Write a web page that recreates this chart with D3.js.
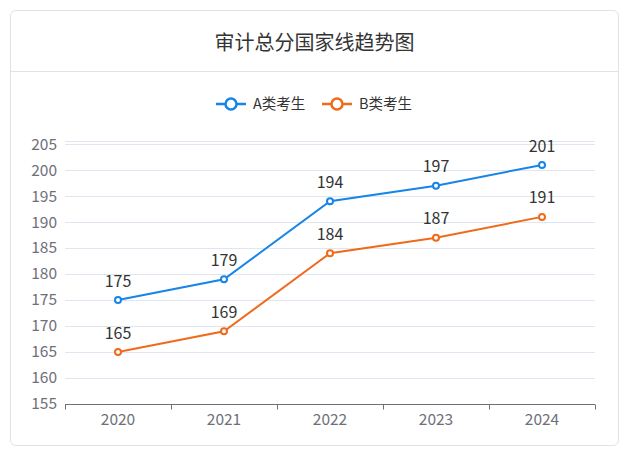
<!DOCTYPE html>
<html>
<head>
<meta charset="utf-8">
<script src="https://cdn.jsdelivr.net/npm/d3@7"></script>
<style>
  body { margin: 0; background: #fff; font-family: "Noto Sans CJK SC", "Noto Sans", sans-serif; }
  #card {
    position: absolute; left: 10px; top: 10px; width: 609px; height: 436px;
    border: 1px solid #e2e2e2; border-radius: 6px; box-sizing: border-box;
  }
  #title {
    height: 60px; line-height: 62px; text-align: center; font-size: 20px; color: #333;
    border-bottom: 1px solid #e2e2e2;
  }
  #chart { position: absolute; left: 0; top: 0; }
</style>
</head>
<body>
<div id="card"><div id="title">审计总分国家线趋势图</div></div>
<svg id="chart" width="629" height="457"></svg>
<script>
// Data
const years = ["2020", "2021", "2022", "2023", "2024"];
const seriesA = [175, 179, 194, 197, 201];
const seriesB = [165, 169, 184, 187, 191];
const seriesNames = ["A类考生", "B类考生"];
const yTicks = [155, 160, 165, 170, 175, 180, 185, 190, 195, 200, 205];

const colors = ["#1784e8", "#f06a1a"];
const series = [seriesA, seriesB];

const svg = d3.select("#chart");
const plotLeft = 65, plotRight = 595, plotTop = 141, plotBottom = 404;
const yMax = 205.6;

const x = d3.scaleBand().domain(years).range([plotLeft, plotRight]);
const y = d3.scaleLinear().domain([155, yMax]).range([plotBottom, plotTop]);

// grid lines
svg.append("g")
    .selectAll("line")
    .data(yTicks.slice(1).concat([yMax]))
    .enter().append("line")
    .attr("x1", plotLeft).attr("x2", plotRight)
    .attr("y1", d => Math.round(y(d)) + 0.5)
    .attr("y2", d => Math.round(y(d)) + 0.5)
    .attr("stroke", "#e0e6f1");

// y labels
svg.append("g")
    .selectAll("text")
    .data(yTicks)
    .enter().append("text")
    .attr("x", plotLeft - 8)
    .attr("y", d => y(d))
    .attr("dy", "0.35em")
    .attr("text-anchor", "end")
    .attr("font-size", 15.5)
    .attr("fill", "#6e7079")
    .text(d => d);

// x axis
const xAxis = svg.append("g")
    .attr("transform", `translate(0,${plotBottom + 0.5})`);
xAxis.append("line")
    .attr("x1", plotLeft).attr("x2", plotRight)
    .attr("stroke", "#6e7079");
xAxis.selectAll(".tk")
    .data(years.map(d => x(d)).concat([plotRight]))
    .enter().append("line")
    .attr("x1", d => Math.round(d) + 0.5).attr("x2", d => Math.round(d) + 0.5)
    .attr("y1", 0).attr("y2", 5)
    .attr("stroke", "#6e7079");
xAxis.selectAll("text")
    .data(years)
    .enter().append("text")
    .attr("x", d => x(d) + x.bandwidth() / 2)
    .attr("y", 15)
    .attr("dy", "0.35em")
    .attr("text-anchor", "middle")
    .attr("font-size", 15.5)
    .attr("fill", "#6e7079")
    .text(d => d);

const line = d3.line()
    .x((d, i) => x(years[i]) + x.bandwidth() / 2)
    .y(d => y(d));

series.forEach((vals, s) => {
    svg.append("path")
        .datum(vals)
        .attr("fill", "none")
        .attr("stroke", colors[s])
        .attr("stroke-width", 2)
        .attr("d", line);

    svg.append("g").selectAll("circle")
        .data(vals)
        .enter().append("circle")
        .attr("cx", (d, i) => x(years[i]) + x.bandwidth() / 2)
        .attr("cy", d => y(d))
        .attr("r", 3)
        .attr("fill", "#fff")
        .attr("stroke", colors[s])
        .attr("stroke-width", 2);

    svg.append("g").selectAll("text")
        .data(vals)
        .enter().append("text")
        .attr("x", (d, i) => x(years[i]) + x.bandwidth() / 2)
        .attr("y", d => y(d) - 19)
        .attr("dy", "0.35em")
        .attr("text-anchor", "middle")
        .attr("font-size", 16)
        .attr("fill", "#333")
        .text(d => d);
});

// legend
const legendX = [216, 322];
seriesNames.forEach((name, s) => {
    const g = svg.append("g").attr("transform", `translate(${legendX[s]},104)`);
    g.append("line").attr("x1", 0).attr("x2", 30)
        .attr("stroke", colors[s]).attr("stroke-width", 2.5);
    g.append("circle").attr("cx", 15).attr("cy", 0).attr("r", 5.5)
        .attr("fill", "#fff").attr("stroke", colors[s]).attr("stroke-width", 2.5);
    g.append("text").attr("x", 37).attr("y", 0).attr("dy", "0.35em")
        .attr("font-size", 14.5).attr("fill", "#333").text(name);
});
</script>
</body>
</html>
